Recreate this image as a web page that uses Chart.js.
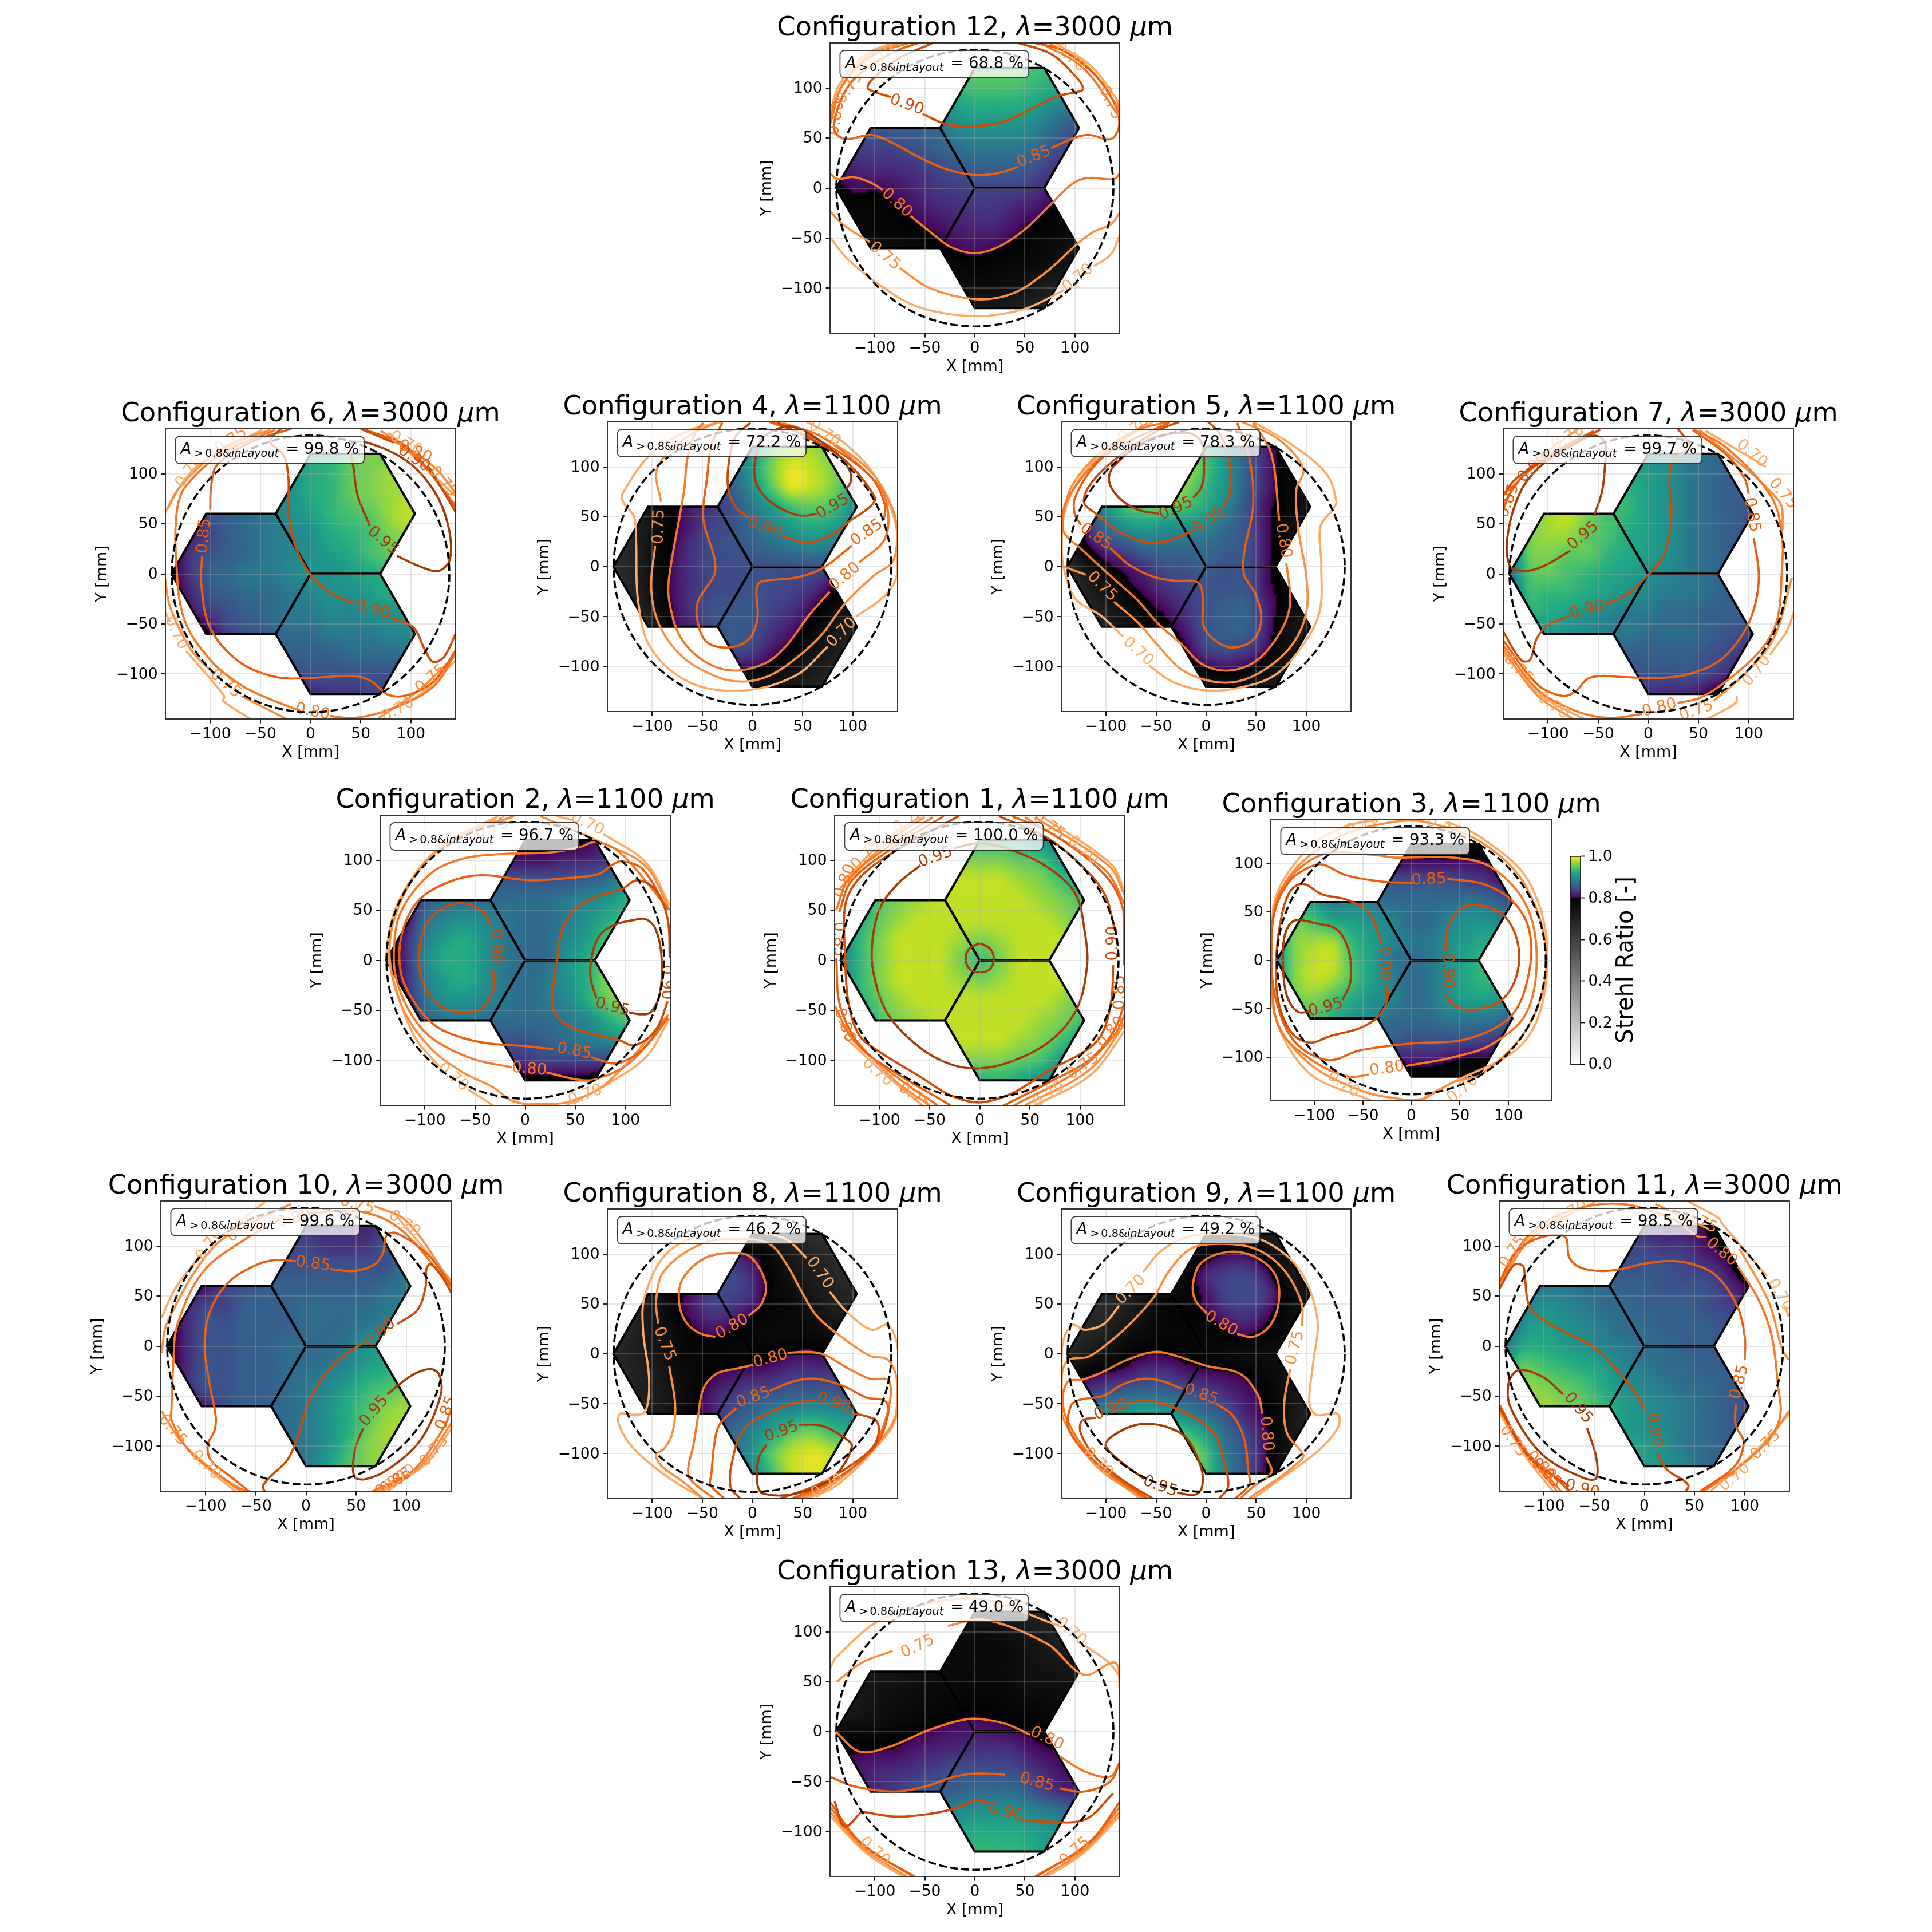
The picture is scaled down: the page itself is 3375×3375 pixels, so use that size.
<!DOCTYPE html>
<html>
<head>
<meta charset="utf-8">
<script src="https://cdn.jsdelivr.net/npm/chart.js@4"></script>
<style>
body { margin: 0; background: #fff; }
#page { position: relative; width: 3375px; height: 3375px; overflow: hidden; }
canvas { position: absolute; }
</style>
</head>
<body>
<div id="page"></div>
<script>
const tickValues = [-100, -50, 0, 50, 100];
const barTicks = [0, 0.2, 0.4, 0.6, 0.8, 1];
const gridX = [-140, -120, -100, -80, -60, -40, -20, 0, 20, 40, 60, 80, 100, 120];
const gridY = [120, 100, 80, 60, 40, 20, 0, -20, -40, -60, -80, -100, -120];
const apertureRadius = 138.3;
const hexTop = [[0,0],[69.3,0],[104,60],[69.3,120],[0,120],[-34.7,60],[0,0]];
const hexLeft = [[0,0],[-34.7,60],[-104,60],[-138.6,0],[-104,-60],[-34.7,-60],[0,0]];
const hexBottom = [[0,0],[-34.7,-60],[0,-120],[69.3,-120],[104,-60],[69.3,0],[0,0]];

// config, wavelength, area > 0.8
const config1 = [1, 1100, '100.0'], config2 = [2, 1100, '96.7'], config3 = [3, 1100, '93.3'];
const config4 = [4, 1100, '72.2'], config5 = [5, 1100, '78.3'], config6 = [6, 3000, '99.8'];
const config7 = [7, 3000, '99.7'], config8 = [8, 1100, '46.2'], config9 = [9, 1100, '49.2'];
const config10 = [10, 3000, '99.6'], config11 = [11, 3000, '98.5'], config12 = [12, 3000, '68.8'];
const config13 = [13, 3000, '49.0'];

// strehl x100 on gridX / gridY, read by eye
const field12 = [
[80,82,84,86,88,90,93,95,95,95,94,92,88,82],[80,84,88,90,91,92,93,94,94,94,93,92,91,85],
[78,84,86,87,88,89,91,92,92,92,91,89,88,86],[78,84,85,86,86,87,89,90,90,90,89,87,85,86],
[80,83,84,84,85,86,87,88,88,88,87,85,84,83],[81,82,82.5,82.5,83,84,85,86,86,86,85,83,82,81],
[79,80.5,80.3,81,82,83,83.5,84,84,84,83,81.5,79.8,79],[77,78,78.5,79.5,81,82,82.5,83,83,82,81.3,79.5,78,77],
[76,77,78,78.5,79.2,80.4,81.5,82,82,80.7,79.2,78,77,76],[73,75,75,76,77,78.5,80.2,80.8,80.1,78.8,77.8,76,75,74],
[70,72,73,74,75,76,77.5,78.5,78,77,76,75,72,70],[64,67,69,71,73,74,75,76,76,75,73,70,69,67],
[60,62,64,66,69,70,71,72,72,71,70,68,66,64]];
const field4 = [
[55,60,66,70,74,78,84,90,95,97,97,94,88,78],[60,62,68,72,76,80,86,91,96,99,98,96,92,82],
[62,66,70,75,79,83,86,90,95,99,98,96,92,85],[64,68,73,78.5,81.5,83,85,88,91,94,95,94,90,85],
[65,69,74,79,82,84,85,87,89,91,92,91,88,82],[66,69,75,80,83,84.5,85,86,87,88,89,88,85,80],
[66,69,75,80.5,83,84.5,84.5,85,85,85,85,84,79.8,76],[65,69,75,80.5,83,84,84.5,85,84.5,84,83,80.3,77.5,72],
[64,67,74,80.2,83,85,85.3,85.3,84,83,80.4,77,73,70],[60,63,70,79.3,82,84.5,85.5,85,83,81.3,78.3,74,70,65],
[55,60,66,75,80.3,83,85,84,81.5,79.2,75,72,68,62],[48,56,62,69,76,79.6,80.3,80.5,78.5,75,72,70,65,60],
[40,48,56,63,68,72,73,74,74,72,70,67,62,56]];
const field5 = [
[72,80,88,93,96,97,95,93,90,86,82,77,70,64],[72,82,90,95,97,98,97,94,90,86,82,78,74,70],
[72,84,91,95,97,98,96,93,90,86,82,78,75,70],[74,84,90,94,95,95,94,92,89,85,81,78,74,70],
[75,82,87,90,91,90,90,89,87,85,81,77,73,70],[72,79,83,85,87,87,87,87,86,85,81,77,73,69],
[66,74,79,81,83,85,85,86,85,85,81,77,73,69],[64,70,75,79,81,83,84,85,85,85,81,78,73,69],
[62,68,72,76,79,81,83,85,86,86,82,78,73,68],[57,64,70,73,76,79,82,85,86,86,82,76,72,66],
[52,60,66,70,72,76,80,84,85,84,81,75,70,64],[46,53,60,66,70,74,78,80,81,80,78,73,68,60],
[38,46,54,60,65,68,72,74,75,75,72,68,62,54]];
const field6 = [
[70,78,82,84,87,88,90,92,93,95,96,95,93,85],[72,80,84,85,87,88,90,92,93,95,96,97,95,92],
[74,80,84,86,87,88,90,92,93,95,96,97,97,95],[74,80,85,86,87,88,90,91,93,94,95,97,98,96],
[76,81,84,86,87,88,89,90,92,93,94,96,97,97],[78,83,85,86,87,88,89,90,91,92,94,95,96,96],
[79,83,86,87,88,88,89,90,90,91,92,93,94,95],[78,82,85,86,87,87,88,89,90,90,91,92,92,93],
[72,80,83,85,86,87,88,88,89,89,90,90,91,92],[66,74,80,84,85,86,87,87,88,88,88,89,89,90],
[60,71,78,82,84,85,86,86,86,87,87,87,88,88],[55,67,74,79,82,83,84,85,85,85,85,85,85,87],
[50,60,70,75,78,80,81,82,83,83,84,83,83,83]];
const field7 = [
[78,84,90,94,95,94,92,90,89,88,87,86,85,80],[80,88,94,96,95,94,92,91,90,88,87,86,85,82],
[82,92,96,97,97,95,93,91,90,88,87,86,86,83],[86,94,97,98,96,94,93,91,90,88,87,86,85,83],
[86,95,97,97,95,94,92,91,90,88,87,86,85,83],[86,95,96,95,95,93,92,91,90,88,87,86,85,83],
[86,94,95,94,93,92,91,90,89,88,87,86,85,82],[85,93,93,93,92,91,90,89,88,88,87,86,85,82],
[83,92,92,91,90,89,88,88,87,87,86,86,85,81],[80,88,90,90,89,88,88,87,87,87,86,85,84,80],
[76,85,88,87,86,86,86,86,86,86,85,84,82,78],[70,78,81,84,84,85,85,85,85,85,84,82,78,75],
[60,72,76,83,83,83,83,83,82,82,80,77,75,70]];
const field2 = [
[68,70,74,78,78,78,79,79,79,79,80,82,80,75],[70,74,79,81,81,81,81,81,81,82,82,83,84,85],
[72,77,82,85,85,85,85,85,85,85,86,87,89,88],[72,78,85,87,87,87,87,87,87,88,89,90,92,92],
[75,80,87,89,90,89,88,87,87,88,90,92,94,96],[77,82,88,91,92,90,88,87,87,89,91,94,97,97],
[78,82,89,92,92,90,88,87,87,90,92,95,97,98],[77,82,88,91,92,90,88,87,88,90,92,96,98,98],
[75,81,87,90,90,89,88,87,88,89,92,95,97,97],[72,78,85,87,88,87,87,87,87,88,89,92,94,94],
[70,76,81,83,85,85,85,85,86,87,88,89,90,89],[62,70,75,77,78,81,83,83,84,84,84,84,84,85],
[52,62,68,72,75,77,78,79,79,79,79,78,80,78]];
const field1 = [
[78,82,85,88,90,92,93,93,93,92,90,88,85,82],[82,85,89,91,94,95,96,96,96,95,94,91,89,85],
[84,88,91,94,96,97,98,98,98,97,96,94,91,88],[86,90,94,96,97,98,98,98,98,98,97,96,94,90],
[87,92,95,97,98,98,98,98,98,98,98,97,95,92],[89,93,96,98,98,98,97,96,97,98,98,98,96,93],
[88,93,96,98,98,98,96,94,96,98,98,98,96,93],[89,93,96,98,98,98,97,96,97,98,98,98,96,93],
[87,92,95,97,98,98,98,98,98,98,98,97,95,92],[86,90,94,96,97,98,98,98,98,98,97,96,94,90],
[84,88,91,94,96,97,98,98,98,97,96,94,91,88],[82,85,89,91,94,95,96,96,96,95,94,91,89,85],
[78,82,85,88,90,92,93,93,93,92,90,88,85,82]];
const field3 = [
[65,72,76,77,78,79,79,79,78,78,77,76,72,65],[70,83,81,81,81,80,80,81,81,81,81,80,77,72],
[75,89,89,85,85,85,85,85,85,85,84,83,80,75],[85,91,91,88,89,88,87,87,87,87,88,87,85,80],
[88,95,94,92,91,90,89,87,87,89,90,90,88,82],[90,96,97,97,93,91,89,88,88,90,91,92,90,83],
[90,96,98,98,94,91,88,87,88,90,92,93,91,84],[90,96,98,97,94,91,89,87,88,90,92,93,90,84],
[88,95,96,94,92,90,89,87,88,90,91,91,89,82],[84,92,94,92,90,89,87,87,87,88,88,88,86,80],
[76,88,90,87,87,86,86,85,85,85,85,84,82,75],[68,83,85,81,82,83,82,82,82,81,80,80,77,72],
[62,68,74,76,78,79,80,78,78,77,76,74,70,66]];
const field10 = [
[62,70,76,80,82,83,83,83,83,83,82,84,83,78],[68,74,80,82,83,83,84,84,83,83,83,85,85,84],
[71,76,81,83,85,85,85,85,85,85,85,85,88,90],[72,78,81,84,85,86,86,86,86,86,86,87,88,90],
[79,82,84,84,86,86,86,87,87,87,87,88,89,90],[78,82,85,85,86,86,86,87,87,87,88,89,90,90],
[78,82,85,85,86,86,87,87,87,88,90,91,92,92],[78,82,85,85,86,86,87,87,88,89,91,92,94,95],
[78,82,85,85,86,86,87,88,89,91,93,94,95,95],[72,78,82,85,86,86,87,88,90,92,94,96,97,96],
[70,77,82,85,85,86,87,88,90,92,95,97,97,96],[66,73,79,85,85,85,87,88,90,93,96,97,97,95],
[58,68,75,80,83,85,87,88,91,94,96,97,96,92]];
const field8 = [
[58,60,62,65,69,71,71,71,70,68,66,64,62,60],[60,63,67,71,75,79.5,80.2,79.8,76,72,69,67,65,63],
[62,65,71,76,81,83,84,82,78,74,71,68,66,64],[64,67,72,77.5,81.5,84,84,82.5,78,76,73,70,68,66],
[66,68,73,78,81,83,82,80,78,77,75,72,70,68],[67,69,73,76,79,80.4,79.3,78,77,77,77,76,74,70],
[68,70,73,76,78,78,78,78.5,79,80.4,80.6,79.2,76,72],[67,69,71,75,77,79.6,80.8,81.3,82,83,83,83,80.3,79.6],
[66,69,71,74,78,81.5,83,84.5,85,86,86,86,84,81],[65,68,71,74,79,82,85,86.5,89,90,91,90,89,85],
[60,65,70,74,79.5,84.5,87,89,92,95,96,94,92,88],[55,62,68,73,76,81,86,90,95,98,99,98,96,90],
[48,56,65,71,75,80,84,89,94,98,99,98,96,88]];
const field9 = [
[60,62,64,66,68,70,72,74,74,74,72,68,64,62],[62,64,66,68,70,72,74,78,80.2,80.1,77,73,69,66],
[64,65,67,69,71,73,77,82,83.5,84,81,75,71,68],[65,66,68,70,74,76,78,81,84,84.5,83,78,73,70],
[66,67,68,71,75,78,78.5,80,82,83,81,77,74,72],[66,68,71,75,77,78,78,78,79.5,80.4,78.5,77,74,72],
[68,72,75,78,79.7,79.8,79,78,77,76,76,75,73,70],[73,79,80.3,81.5,83,83,81.5,80.8,80.3,79.3,77,75,73,70],
[81,83,85,86.5,87,86.5,85.3,84,82.5,81,79,75,72,69],[83,87,90,91,92,91,89,87,85,82,79.5,75,70,68],
[78,88,93,95,96,96,94,91,87,84,80.5,75,70,66],[66,78,85,94,97,98,97,94,88,85,80.3,74,70,62],
[55,68,80,90,96,98,97,94,89,85,80,72,66,58]];
const field11 = [
[70,76,80,82,83,83,82,82,82,81,80,77,73,68],[74,80,84,86,85,85,84,84,83,83,81,79,75,70],
[76,88,89,87,86,85,85,85,85,84,83,81,77,73],[76,86,88,88,87,87,86,86,85,85,85,83,80,74],
[80,88,90,89,88,87,87,86,86,86,85,84,82,75],[84,90,91,90,89,88,87,87,86,86,86,85,84,80],
[88,92,92,91,90,89,88,87,87,86,86,85,85,82],[92,95,94,93,92,91,89,88,87,87,86,86,85,83],
[90,96,96,95,94,92,90,89,88,87,87,86,85,83],[88,95,97,96,95,93,91,90,89,88,87,86,85,83],
[82,92,96,96,95,93,91,90,89,88,87,86,85,83],[76,88,94,96,95,93,92,91,90,88,87,86,85,82],
[68,80,90,94,95,94,92,91,90,89,87,86,84,80]];
const field13 = [
[65,68,70,70,71,72,73,73,73,72,70,69,67,65],[68,70,71,72,73,74,76,76,76,74,72,70,68,68],
[70,71,72,74,75,76,77,77,77,76,74,72,71,71],[71,72,73,74,75,76,77,77,77,76,75,74,74,74],
[71,73,74,75,76,77,77,78,78,77,76,76,75,74],[72,73,75,76,77,78,79,79.6,79,78,78,77,76,75],
[76,77,77,78,79.5,80.4,81,81.3,81,80.4,79.3,78,77,76],[78,79.8,80.1,80.4,81.5,82,82.5,83,83,82.5,81,80.2,79,79],
[79,81,82,82.5,83,84,85,85,85,84.5,83,81.5,80,80],[77,80,82,83.5,85,85.5,86,87,87,87,85,83,82,82],
[73,78,82,85,87,88,89,90,90,90,89,88,86,85],[68,75,80,84,87,89,91,92,92,92,91,90,88,85],
[60,70,76,82,86,89,91,93,93,93,92,90,87,82]];

// contour pieces: [level, x,y, x,y, ...], broken where a label sits
const lines12 = [
[90,-42,145,-77,129,-103,108,-107,100,-100,96,-84,91],[90,-52,74,-29,64,0,62,31,67,60,81,83,92,102,96,108,99,102,110,76,134,43,145],
[85,43,21,23,15,0,13,-29,19,-56,31,-82,45,-103,53,-129,49,-140,57,-137,79,-124,105,-100,125,-74,139,-56,145],[85,76,40,102,51,115,53,136,49,144,62,141,81,123,110,89,137,60,145],
[80,-144,14,-137,9,-121,11,-103,5,-92,-2],[80,-64,-28,-43,-45,-24,-59,0,-65,23,-59,49,-42,76,-16,97,4,112,10,139,9,145,15],
[80,-145,62,-132,103,-103,132,-66,145],[80,66,145,108,120,145,70],
[75,-144,-24,-131,-37,-105,-54],[75,-75,-80,-45,-100,0,-111,36,-106,70,-85,102,-56,118,-44,136,-36,145,-24],
[75,-145,66,-134,100,-107,132,-75,145],[75,74,145,112,122,145,78],
[70,-144,-50,-127,-71,-95,-97,-56,-119,0,-128,49,-121,89,-102],[70,119,-78,136,-66,145,-46],
[70,-145,72,-136,102,-110,133,-82,145],[70,80,145,116,122,145,84]];
const labels12 = [['0.90',-68,83,20],['0.85',59,31,-22],['0.80',-78,-15,42],['0.75',-90,-68,40],['0.70',103,-90,-40],['0.70',95,130,40],['0.75',135,85,65],['0.70',-95,130,-35],['0.75',-125,100,-55],['0.80',-138,70,-80]];

const lines4 = [
[95,64,53,48,51,25,60,9,74,2,91,4,113,11,130,40,140,82,115,96,98,98,86,93,77],
[90,-4,49,-17,60,-24,77,-24,101,-17,130,-2,144],[90,29,31,54,24,77,31,96,45,117,60,122,69,96,103,69,122,25,144],
[85,-30,144,-41,122,-45,91,-49,48,-38,9,-38,-8,-54,-34,-55,-53,-46,-75,-25,-81,-4,-73,5,-51,4,-22,9,-15,43,-11,69,-2,99,21],[85,131,47,132,62,117,91,69,125,17,145],
[80,-49,144,-57,134,-65,108,-68,77,-83,-10,-83,-34,-72,-70,-49,-94,-20,-104,12,-97,33,-80,56,-49,77,-25],[80,106,4,132,28,134,62,122,86,69,130,22,145],
[75,-91,65,-96,93,-88,110,-62,132,-36,144],[75,-97,21,-101,-22,-93,-58,-70,-90,-36,-110,-9,-115,17,-109,43,-92,69,-68,92,-37,122,-8,139,4,144,26,140,57,117,96,69,130,30,144],
[70,75,-80,43,-109,-9,-124,-62,-116,-101,-82,-114,-34,-116,26,-118,50,-129,65,-129,74,-101,113,-62,137,-30,145],
[70,103,-50,132,-29,144,-8,144,38,122,91,90,125,54,145]];
const labels4 = [['0.95',80,60,-30],['0.90',12,39,20],['0.85',114,34,-35],['0.80',92,-10,-40],['0.75',-93,40,-88],['0.70',89,-66,-45],['0.70',72,133,35]];

const lines5 = [
[95,-47,53,-68,57,-87,69,-97,86,-92,101,-58,127,-19,134,-5,125,-2,98,-5,79,-13,69],
[90,-12,37,-32,28,-55,24,-84,33,-110,53,-122,65,-113,86,-84,113,-47,137,-27,145],[90,18,60,25,81,21,115,13,134,2,145],
[85,-96,19,-77,2,-53,-10,-32,-14,-8,-16,-3,-34,-3,-58,8,-73,26,-81,47,-73,55,-53,50,-29,38,-8,38,14,47,62,43,110,31,144],[85,-125,42,-131,52,-131,69,-110,103,-84,122,-37,144],
[80,73,46,65,113,47,144],[80,80,4,84,-34,78,-58,60,-85,42,-99,18,-104,-5,-97,-24,-78,-47,-58,-68,-34,-89,-15,-110,4,-126,19,-137,28,-143,38,-139,67,-105,110,-68,137,-37,145],
[75,36,145,73,127,97,98,90,77,92,38,100,-10,100,-46,86,-78,60,-102,31,-115,2,-114,-26,-102,-47,-80,-68,-56,-92,-35],[75,-120,-8,-145,1],[75,-143,50,-134,81,-105,115,-58,144],
[70,-57,-99,-32,-116,2,-124,34,-121,68,-109,94,-82,113,-46,115,2,114,40,126,57,130,65,120,93,86,122,47,145],
[70,-83,-70,-105,-49,-129,-34,-138,-17,-144,14,-139,62,-110,108,-53,145]];
const labels5 = [['0.95',-30,58,-25],['0.90',3,46,-35],['0.85',-110,30,35],['0.80',77,26,80],['0.75',-104,-20,45],['0.70',-68,-85,42],['0.70',-72,137,-35]];

const lines6 = [
[95,59,48,47,78,43,105,40,129,57,131,97,112,123,83,137,49,139,15,128,3,110,7,86,18],
[90,44,-30,18,-18,0,-1,-16,30,-22,64,-22,95,-27,119,-40,131,-37,138,-29,145],[90,80,-44,102,-53,114,-76,122,-88,133,-83,145,-59],[90,50,145,83,131],[90,118,107,145,61],
[85,-108,18,-109,-9,-100,-54,-71,-88,-35,-103,0,-104,44,-102,60,-107,78,-121,97,-121,123,-107,145,-76],[85,-100,64,-99,88,-93,109,-61,131,-19,145],[85,55,144,97,126,145,66],
[80,-10,-137,-48,-122,-71,-110,-100,-86,-126,-45,-134,15,-133,64,-124,88,-87,121,-35,144],[80,19,-142,44,-144,83,-134,123,-112,145,-78],[80,52,144,97,124,145,68],
[75,-24,-145,-69,-122],[75,-98,-98,-119,-76,-140,-33,-145,-4],[75,-143,64,-129,88,-87,126,-40,144],[75,68,-144,107,-117,145,-81],[75,70,143,123,107,145,80],
[70,-60,-145,-87,-127,-86,-122,-124,-77],[70,-145,-38,-140,-48],[70,-145,61,-132,85,-108,112,-48,144],[70,70,-139,110,-120,145,-86],[70,78,141,144,78]];
const labels6 = [['0.95',72,33,40],['0.90',62,-36,15],['0.90',103,115,35],['0.85',-106,38,-85],['0.80',2,-138,12],['0.75',-85,-110,40],['0.70',-134,-59,65],['0.75',120,-105,-40],['0.70',87,-136,-30],['0.75',132,92,50],['0.70',95,130,30],['0.70',-121,102,-55],['0.75',-79,133,-35],['0.80',104,122,25]];

const lines7 = [
[95,-78,23,-106,7,-124,3,-138,8,-140,40,-127,83,-106,109,-80,126,-54,138,-43,131,-43,112,-46,83,-54,58],
[90,-43,-30,-22,-21,0,-1,15,18,21,40,23,64,21,95,25,114,41,126,35,138,29,145],[90,-78,-42,-98,-50,-111,-64,-118,-86,-127,-86,-145,-57],[90,-145,78,-132,95,-93,121,-48,144],
[85,100,80,96,95,78,119,44,144],[85,105,36,110,1,107,-28,96,-57,72,-86,41,-100,12,-104,-27,-103,-48,-102,-61,-105,-72,-117,-85,-122,-111,-110,-145,-66],[85,-145,64,-132,90,-96,120,-54,143],
[80,-6,-140,-40,-144,-75,-136,-111,-115,-145,-71],[80,29,-129,51,-124,78,-107,112,-76,128,-47,133,3,133,40,122,78,78,126,46,144],
[75,65,-127,96,-100,125,-64,143,-4],[75,-145,-75,-111,-121,-75,-145],[75,51,144,130,73,134,44],[75,-145,70,-115,110,-70,145],
[70,59,-145,87,-129,88,-122],[70,121,-81,138,-57,145,-38],[70,57,143,117,107],[70,-93,129,-145,78],[70,-64,-145,-106,-122,-145,-79]];
const labels7 = [['0.95',-65,38,-40],['0.90',-61,-36,-15],['0.85',103,59,80],['0.80',11,-134,-15],['0.75',48,-137,-20],['0.70',108,-97,-50],['0.70',103,120,40],['0.75',134,80,50],['0.90',-115,106,-45],['0.70',-95,-132,35],['0.75',-130,-95,45],['0.85',-139,73,-70],['0.70',-80,136,-30]];

const lines2 = [
[95,71,-38,65,-17,67,7,75,26,88,35,107,40,120,41,130,31,136,2,134,-34,125,-52,115,-54,103,-52],
[90,-34,35,-43,49,-64,57,-85,50,-100,33,-106,2,-100,-27,-82,-47,-59,-52,-43,-47,-32,-29,-32,-10],
[90,144,2,142,41,130,70,112,80,96,71,73,64,52,53,37,31,32,2,27,-41,33,-58,54,-70,94,-80,109,-85,130,-70,142,-41],
[85,28,-89,2,-86,-37,-83,-64,-77,-90,-65,-111,-41,-124,-12,-123,26,-106,60,-74,79,-43,85,4,80,41,82,73,86,86,95,96,99,117,91,142,50],[85,66,-97,91,-103,117,-89,142,-58],
[80,-13,-107,-51,-99,-90,-80,-111,-58,-127,-24,-131,7,-124,48,-95,86,-64,101,-26,106,28,108,54,113,70,118,94,108,142,52],[80,21,-112,51,-119,70,-119,106,-101,142,-56],
[75,2,-144,-14,-140,-32,-127,-64,-111,-95,-87,-122,-48,-135,2,-129,46,-103,94,-64,125,-11,144],[75,2,-144,41,-142,81,-123,143,-54],[75,15,144,75,118,120,94,144,50],
[70,-57,-129,-32,-145],[70,-86,-106,-111,-75,-132,-17,-137,19,-122,67,-85,113,-27,144],[70,77,-127,120,-97,144,-58],[70,41,-144,55,-140],[70,78,126,120,98,144,55],[70,31,144,48,140]];
const labels2 = [['0.95',87,-47,15],['0.90',-30,14,90],['0.90',140,-22,90],['0.85',49,-91,10],['0.80',4,-109,5],['0.70',-72,-117,40],['0.70',60,-135,-20],['0.70',62,136,25],['0.75',-33,132,-20]];

const lines1 = [
[95,0,17,10,12,14,2,10,-9,0,-12,-10,-9,-14,2,-10,12,0,17],
[95,-59,95,-81,77,-99,53,-107,19,-106,-12,-92,-53,-60,-87,-29,-104,0,-108,32,-101,71,-80,97,-48,107,-5,105,26,95,67,66,94,32,110,0,117,-26,112],
[90,135,29,124,67,97,99,66,123,19,144],[90,-21,144,-86,108,-120,82,-134,55,-134,2,-131,-41,-120,-75,-99,-92,-60,-116,-29,-135,0,-142,32,-133,71,-109,103,-92,121,-75,131,-41,133,-5],
[85,-140,48,-128,79,-86,113,-36,144],[85,32,144,71,127,124,86,143,50,144,-5],[85,-143,2,-139,-46,-118,-87,-86,-111,-29,-145],[85,24,-145,71,-121,110,-99,134,-70,145,-41],
[80,-143,50,-130,82,-89,115,-47,143],[80,45,143,124,91,145,55],[80,-144,-46,-126,-80,-81,-118,-42,-145],[80,34,-145,97,-111,134,-75,145,-53],
[75,-139,72,-92,118,-55,143],[75,55,143,129,94,145,64],[75,-139,-63,-86,-119,-50,-145],[75,45,-145,110,-109,145,-63],
[70,-136,79,-97,118,-60,143],[70,63,143,131,96,145,67],[70,-134,-77,-92,-116,-57,-145],[70,55,-145,110,-115,145,-70]];
const labels1 = [['0.95',-44,103,-20],['0.90',133,17,-90],['0.85',140,-32,-90],['0.85',-141,21,90],['0.80',131,-72,-50],['0.80',-134,79,-70],['0.80',-135,-65,70],['0.75',103,-106,-35],['0.70',69,-134,-35],['0.70',-102,-112,40],['0.75',-65,-136,35],['0.70',103,110,40],['0.75',69,134,35],['0.70',-70,139,-30],['0.75',-113,105,-45]];

const lines3 = [
[95,-104,-53,-117,-53,-128,-37,-132,-8,-130,27,-120,41,-98,38,-77,32,-65,12,-62,-13,-64,-27,-71,-41],
[90,-25,-25,-25,-42,-34,-58,-53,-70,-83,-78,-104,-85,-123,-75,-137,-42,-139,-3,-136,32,-126,69,-112,79,-92,68,-65,62,-44,49,-32,22,-32,17],
[90,35,10,37,32,49,52,67,57,94,47,109,20,109,-13,94,-40,67,-51,49,-49,38,-40,36,-34],
[85,2,80,-29,81,-68,88,-92,99,-107,95,-126,81,-141,49,-144,0,-139,-42,-120,-84,-86,-103,-53,-93,-2,-86,58,-81,103,-57,121,-13,121,32,103,62,73,79,37,84],
[80,-44,-118,-65,-120,-101,-104,-135,-72,-144,-18,-144,32,-132,76,-92,109,-41,109,-17,106,43,106,82,96,118,57,129,2,118,-55,82,-87,43,-100,-5,-109],
[75,13,-143,-5,-144,-53,-134,-108,-104,-141,-55,-144,32,-126,86,-77,126,-23,142,13,143,73,121,118,76,139,2,121,-67,73,-117,43,-126,13,-143],
[70,10,-144,19,-138,37,-129,118,-82,140,2,121,81,73,126,37,143],[70,-41,-145,-108,-114,-144,-42,-142,57,-108,114,-68,138,-35,145]];
const labels3 = [['0.95',-88,-49,-15],['0.90',-28,-3,90],['0.90',37,-11,90],['0.85',18,83,-3],['0.80',-25,-112,-8],['0.70',-70,-128,35],['0.70',53,-133,-40],['0.70',-50,140,-25],['0.70',32,136,30]];

const lines10 = [
[95,57,-82,49,-103,48,-130,59,-133,82,-123,114,-94,134,-50,133,-29,124,-23,106,-29,81,-48],
[90,57,3,38,-9,17,-31,1,-60,-7,-87,-18,-113,-36,-131,-43,-140,-41,-145],[90,91,22,111,36,119,58,120,77,124,82,134,72,145,53],
[85,-10,85,-31,86,-52,80,-78,63,-96,34,-101,0,-96,-38,-90,-70,-91,-84,-98,-99,-94,-115,-73,-132,-57,-145],[85,24,77,48,75,69,82,77,94,80,110,90,113,121,92,145,60],
[80,-134,-62,-132,-14,-128,22,-102,75,-57,109,-25,127],[80,3,133,56,134,95,116,145,58],[80,-134,-62,-134,-74,-115,-106,-75,-137,-60,-145],[80,66,-145,106,-125,137,-82,145,-62],
[75,-144,-65,-122,-98,-83,-132,-65,-145],[75,-144,-7,-138,24,-94,97,-49,126,-15,142],[75,68,140,100,125,145,63],[75,72,-145,114,-120,145,-77],
[70,-144,28,-130,58,-104,92],[70,-83,111,-41,144],[70,90,130,145,65],[70,-120,-101,-89,-130,-70,-145],[70,77,-145,119,-118,145,-82]];
const labels10 = [['0.95',68,-65,-50],['0.90',74,13,-40],['0.85',7,82,8],['0.70',-96,101,-55],['0.75',-62,116,-30],['0.80',-12,127,-15],['0.75',51,141,15],['0.70',98,122,35],['0.75',-133,-84,50],['0.70',-100,-119,45],['0.85',140,-67,-70],['0.75',128,-105,-50],['0.85',90,-135,-35],['0.80',85,-138,-35],['0.70',94,-132,-35]];

const lines8 = [
[95,14,-91,6,-105,5,-131,11,-140,43,-140,80,-124,99,-93,90,-83,69,-72,46,-71],
[90,63,-47,43,-49,12,-61,-9,-76,-19,-102,-22,-133,-12,-145],[90,99,-59,122,-66,126,-78,117,-97,69,-129,27,-145],
[85,-16,-54,-33,-71,-38,-90,-41,-121,-42,-131,-28,-145],[85,17,-37,43,-27,64,-25,90,-32,114,-44,132,-47,135,-61,122,-93,82,-126,39,-145],
[80,-37,17,-51,20,-65,30,-73,50,-70,74,-49,95,-23,101,-2,97,13,71,9,50,-4,38],
[80,1,-11,-17,-15,-36,-20,-49,-35,-54,-61,-59,-92,-64,-114,-62,-126,-38,-145],[80,35,1,56,2,72,-1,96,-15,117,-25,136,-27,134,-61,117,-97,75,-131,43,-145],
[75,-94,30,-96,54,-88,83,-51,110,-12,115,17,110,35,88,48,64,64,38,90,16,117,-2,135,-6,144,-27,143,-61,122,-93,77,-133,48,-145],[75,-83,-12,-77,-52,-80,-80,-88,-95,-96,-101,-91,-112,-72,-126,-49,-145],
[70,54,96,33,115,1,122,-36,122,-83,103,-107,59,-109,23,-103,-25,-107,-58,-120,-61,-132,-60,-133,-71,-120,-93,-88,-121,-49,-145],[70,77,62,96,40,119,24,135,29,145,4,144,-61,122,-95,82,-133,54,-145]];
const labels8 = [['0.95',29,-78,-20],['0.90',81,-49,18],['0.85',1,-44,-20],['0.80',-20,27,-30],['0.80',18,-5,-15],['0.75',-88,10,68],['0.70',67,81,55],['0.70',75,-133,-30]];

const lines9 = [
[95,-62,-125,-84,-109,-100,-93,-97,-85,-76,-73,-58,-70,-37,-74,-19,-85,-5,-114,-4,-133,-11,-141,-29,-139],
[90,-78,-49,-58,-47,-32,-54,-5,-68,10,-83,18,-109,22,-133,13,-145],[90,-110,-64,-124,-67,-125,-80,-110,-104,-84,-126,-53,-145],
[85,-24,-35,-45,-27,-63,-25,-84,-31,-102,-42,-126,-46,-135,-52,-137,-76,-110,-109,-58,-145],[85,10,-50,26,-61,38,-85,42,-117,43,-131,29,-145],
[80,1,40,-11,54,-13,71,-5,91,21,102,47,98,68,81,73,57,65,30,47,17,31,20],
[80,56,-60,52,-42,34,-20,0,-12,-27,-3,-50,2,-79,-6,-103,-18,-124,-26,-137,-27,-143,-42,-139,-66,-110,-109,-61,-145],[80,60,-103,65,-119,47,-133,34,-145],
[75,96,28,95,52,76,86,47,106,8,110,-16,105,-37,83,-52,57,-76,30,-100,9,-118,-3,-137,-6,-144,-20,-144,-61,-110,-112,-63,-145],[75,84,-15,78,-49,81,-80,97,-101,94,-107,73,-124,42,-145],
[70,-87,48,-102,30,-121,24,-134,29,-144,6,-144,-61,-115,-102],[70,-100,-118,-66,-145],[70,-63,82,-45,103,-19,117,21,120,60,112,94,83,111,35,107,-8,103,-49,110,-61,131,-60,132,-73,112,-97,73,-126,47,-145]];
const labels9 = [['0.95',-46,-133,20],['0.90',-95,-56,-20],['0.85',-5,-41,20],['0.80',15,30,30],['0.80',60,-80,85],['0.75',89,6,-75],['0.70',-75,64,-45],['0.70',-108,-109,45]];

const lines11 = [
[95,-81,-48,-101,-31,-125,-24,-135,-36,-133,-62,-102,-108,-60,-132,-48,-132,-48,-111,-57,-82],
[90,1,-65,-7,-50,-23,-29,-49,-2,-75,12,-102,27,-115,41,-119,68,-121,80,-130,81,-144,58],[90,13,-107,22,-123,40,-135,44,-140,41,-145],[90,-144,-62,-115,-111,-75,-140],
[85,100,-14,100,10,92,41,72,70,48,82,24,85,-2,82,-23,77,-44,75,-65,79,-75,89,-79,109,-102,109,-128,94,-144,65],[85,91,-58,91,-79,99,-96,90,-120,56,-145],[85,-144,-59,-120,-103,-88,-132,-75,-145],
[80,62,109,52,110,30,126,-23,142,-75,135,-115,111,-144,65],[80,93,80,114,46,127,10,133,-38,135,-72,119,-99,82,-130,59,-145],[80,-144,-62,-117,-106,-83,-145],
[75,11,142,64,117],[75,95,97,124,44,137,-2,144,-14],[75,90,-127,56,-145],[75,144,-65,121,-99],[75,-144,60,-115,105,-60,140],[75,-144,-65,-118,-106,-87,-145],
[70,43,145,74,128,77,123,122,70],[70,144,29,140,40],[70,-144,62,-115,109,-49,144],[70,145,-67,108,-108,66,-145],[70,-144,-67,-120,-108,-91,-145]];
const labels11 = [['0.95',-66,-62,50],['0.90',10,-84,80],['0.85',95,-36,-75],['0.80',77,94,40],['0.70',135,51,60],['0.75',56,124,25],['0.75',-131,94,-55],['0.75',121,-99,-45],['0.70',90,-131,-40],['0.75',-131,-95,55],['0.85',-98,-127,45],['0.90',-62,-143,15],['0.70',-73,133,-30],['0.80',-103,-120,45]];

const lines13 = [
[90,-113,-80,-80,-85,-50,-83,-20,-77,0,-69,15,-72],[90,45,-88,70,-90,110,-88,138,-62],[90,-113,-80,-130,-95,-140,-70],
[85,-145,-45,-120,-55,-80,-60,-50,-55,-20,-45,0,-42,30,-43],[85,85,-57,109,-60,135,-50,145,-30],
[80,-139,0,-115,-20,-85,-15,-50,0,-20,10,0,13,30,8,55,-3],[80,85,-25,110,-40,135,-45,145,-30],
[75,-138,50,-113,69,-82,81],[75,-27,106,10,112,72,88,109,57,140,69,145,38],
[70,-145,62,-138,75,-88,115,0,133,84,106],[70,110,86,134,69,145,55],
[85,-145,-70,-115,-110,-62,-145],[80,-145,-75,-112,-114,-60,-145],[75,-145,-80,-110,-118,-68,-145],[70,-145,-84,-108,-122,-72,-145],
[85,145,-70,115,-110,62,-145],[80,145,-75,112,-114,60,-145],[75,145,-80,110,-118,68,-145],[70,145,-84,108,-122,72,-145]];
const labels13 = [['0.90',31,-81,15],['0.85',62,-51,15],['0.80',72,-7,25],['0.75',-57,85,-25],['0.70',96,100,40],['0.70',-100,-120,42],['0.75',100,-120,-42]];

const panelBoxes = {
  12: [1450.3, 74.5, 506.5, 507], 6: [289, 748.5, 507, 507.5], 4: [1060.9, 736.7, 507.3, 506.4], 5: [1854, 736.7, 506.4, 506.4],
  7: [2625.7, 748.5, 507.3, 507.5], 2: [664, 1423.7, 507, 507.6], 1: [1457.6, 1423.7, 507, 507.6], 3: [2219.8, 1431.7, 491.8, 491.6],
  10: [281.3, 2098.4, 507.4, 507.5], 8: [1060.9, 2112.1, 507.3, 506.4], 9: [1854, 2112.1, 506.4, 506.4], 11: [2618.8, 2098.4, 507, 507.5],
  13: [1450.3, 2772.2, 506.5, 506.5]
};
const panels = [
  [config12, field12, lines12, labels12], [config6, field6, lines6, labels6], [config4, field4, lines4, labels4],
  [config5, field5, lines5, labels5], [config7, field7, lines7, labels7], [config2, field2, lines2, labels2],
  [config1, field1, lines1, labels1], [config3, field3, lines3, labels3], [config10, field10, lines10, labels10],
  [config8, field8, lines8, labels8], [config9, field9, lines9, labels9], [config11, field11, lines11, labels11],
  [config13, field13, lines13, labels13]
];

const levelColors = { 70: '#fdab67', 75: '#fd8e3e', 80: '#f67824', 85: '#ea5f0e', 90: '#cf4a04', 95: '#a63a04' };
const viridis = [[68,1,84],[72,36,117],[65,68,135],[53,95,141],[42,120,142],[33,145,140],[34,168,132],[68,191,112],[122,209,81],[189,223,38],[253,231,37]];
const FONT = '"DejaVu Sans"';
Chart.defaults.font.family = FONT;
const page = document.getElementById('page');

function strehlColor(v) {
  if (v < 0.8) {
    const g = Math.round(255 * (1 - Math.max(0, v) / 0.8));
    return [g, g, g];
  }
  const t = Math.min(1, (v - 0.8) / 0.2) * 10, i = Math.min(9, Math.floor(t)), f = t - i;
  return viridis[i].map((c, k) => Math.round(c + (viridis[i + 1][k] - c) * f));
}

// like imshow with interpolation: the readings stay on the coarse grid, only the painted image is smooth
function cubic(a, b, c, d, t) {
  return b + 0.5 * t * (c - a + t * (2 * a - 5 * b + 4 * c - d + t * (3 * (b - c) + d - a)));
}
function smoothAt(field, u, v) {
  const ny = field.length, nx = field[0].length;
  const iu = Math.floor(u), iv = Math.floor(v), tu = u - iu, tv = v - iv;
  const at = (j, i) => field[Math.max(0, Math.min(ny - 1, j))][Math.max(0, Math.min(nx - 1, i))];
  const rows = [-1, 0, 1, 2].map(d => cubic(at(iv + d, iu - 1), at(iv + d, iu), at(iv + d, iu + 1), at(iv + d, iu + 2), tu));
  return cubic(rows[0], rows[1], rows[2], rows[3], tv);
}
function fieldImage(field) {
  const k = 8, off = document.createElement('canvas');
  off.width = gridX.length * k;
  off.height = gridY.length * k;
  const c = off.getContext('2d'), img = c.createImageData(off.width, off.height);
  for (let j = 0; j < off.height; j++) {
    for (let i = 0; i < off.width; i++) {
      const rgb = strehlColor(smoothAt(field, (i + 0.5) / k - 0.5, (j + 0.5) / k - 0.5) / 100), p = (j * off.width + i) * 4;
      img.data[p] = rgb[0]; img.data[p + 1] = rgb[1]; img.data[p + 2] = rgb[2]; img.data[p + 3] = 255;
    }
  }
  c.putImageData(img, 0, 0);
  return off;
}

// text pieces with mixed italic / subscript
function runFont(r) { return (r.it ? 'italic ' : '') + r.size + 'px ' + FONT; }
function runsWidth(ctx, runs) {
  return runs.reduce((w, r) => { ctx.font = runFont(r); return w + ctx.measureText(r.t).width + (r.gap || 0); }, 0);
}
function drawRuns(ctx, runs, x, y) {
  ctx.textAlign = 'left';
  ctx.textBaseline = 'alphabetic';
  ctx.fillStyle = '#000';
  runs.forEach(r => {
    ctx.font = runFont(r);
    ctx.fillText(r.t, x, y + (r.dy || 0));
    x += ctx.measureText(r.t).width + (r.gap || 0);
  });
}

function panelPlugin(cfg, field, labels) {
  const image = fieldImage(field);
  const titleRuns = [
    { t: 'Configuration ' + cfg[0] + ', ', size: 46.4 }, { t: 'λ', it: true, size: 46.4 },
    { t: '=' + cfg[1] + ' ', size: 46.4 }, { t: 'μ', it: true, size: 46.4 }, { t: 'm', size: 46.4 }
  ];
  const areaRuns = [
    { t: 'A', it: true, size: 27.5, gap: 5 }, { t: '>', size: 19.3, dy: 5, gap: 3 }, { t: '0.8&', size: 19.3, dy: 5 },
    { t: 'inLayout', it: true, size: 19.3, dy: 5, gap: 12 }, { t: '= ' + cfg[2] + ' %', size: 27.5 }
  ];
  return {
    id: 'panel',
    beforeDatasetsDraw(chart) {
      const { ctx, scales: { x, y } } = chart;
      ctx.save();
      ctx.beginPath();
      [hexTop, hexLeft, hexBottom].forEach(h => h.forEach((p, i) => {
        const px = x.getPixelForValue(p[0]), py = y.getPixelForValue(p[1]);
        if (i) ctx.lineTo(px, py); else ctx.moveTo(px, py);
      }));
      ctx.clip();
      ctx.imageSmoothingEnabled = true;
      ctx.imageSmoothingQuality = 'high';
      const x0 = x.getPixelForValue(gridX[0] - 10), x1 = x.getPixelForValue(gridX[gridX.length - 1] + 10);
      const y0 = y.getPixelForValue(gridY[0] + 10), y1 = y.getPixelForValue(gridY[gridY.length - 1] - 10);
      ctx.drawImage(image, x0, y0, x1 - x0, y1 - y0);
      ctx.restore();
    },
    afterDatasetsDraw(chart) {
      const { ctx, chartArea: a, scales: { x, y } } = chart;
      ctx.save();
      ctx.beginPath();
      ctx.rect(a.left, a.top, a.width, a.height);
      ctx.clip();
      // labels on the contours
      labels.forEach(l => {
        ctx.save();
        ctx.translate(x.getPixelForValue(l[1]), y.getPixelForValue(l[2]));
        ctx.rotate(l[3] * Math.PI / 180);
        ctx.font = '27.5px ' + FONT;
        ctx.textAlign = 'center';
        ctx.textBaseline = 'middle';
        ctx.fillStyle = levelColors[Math.round(parseFloat(l[0]) * 100)];
        ctx.fillText(l[0], 0, 0);
        ctx.restore();
      });
      // telescope aperture
      ctx.beginPath();
      ctx.ellipse(x.getPixelForValue(0), y.getPixelForValue(0),
        Math.abs(x.getPixelForValue(apertureRadius) - x.getPixelForValue(0)),
        Math.abs(y.getPixelForValue(apertureRadius) - y.getPixelForValue(0)), 0, 0, Math.PI * 2);
      ctx.setLineDash([13.5, 6]);
      ctx.lineWidth = 3.6;
      ctx.strokeStyle = '#000';
      ctx.stroke();
      ctx.restore();
    },
    afterDraw(chart) {
      const { ctx, chartArea: a } = chart;
      ctx.save();
      ctx.strokeStyle = '#222';
      ctx.lineWidth = 1.8;
      ctx.strokeRect(a.left, a.top, a.width, a.height);
      // area box
      const w = runsWidth(ctx, areaRuns) + 18, bx = a.left + 17.4, by = a.top + 13;
      ctx.beginPath();
      ctx.roundRect(bx, by, w, 48, 8);
      ctx.fillStyle = 'rgba(255,255,255,0.75)';
      ctx.fill();
      ctx.strokeStyle = 'rgba(30,30,30,0.85)';
      ctx.lineWidth = 1.8;
      ctx.stroke();
      drawRuns(ctx, areaRuns, bx + 9, by + 30.5);
      // title
      const tw = runsWidth(ctx, titleRuns);
      drawRuns(ctx, titleRuns, (a.left + a.right) / 2 - tw / 2, a.top - 13);
      ctx.restore();
    }
  };
}

function axis(extent, label, pad) {
  return {
    type: 'linear', min: -extent, max: extent,
    afterBuildTicks(s) { s.ticks = tickValues.map(v => ({ value: v })); },
    title: { display: true, text: label, color: '#000', font: { size: 27 }, padding: 0 },
    ticks: {
      color: '#000', font: { size: 26.5 }, padding: pad, maxRotation: 0, autoSkip: false,
      callback: v => String(v).replace('-', '\u2212')
    },
    grid: { color: 'rgba(176,176,176,0.3)', lineWidth: 2, z: 1, tickColor: '#000', tickWidth: 1.8, tickLength: 7.5 },
    border: { display: false }
  };
}

function drawPanel(cfg, field, lines, labels) {
  const box = panelBoxes[cfg[0]];
  const ml = 126, mr = 120, mt = 70, mb = 75;
  const canvas = document.createElement('canvas');
  canvas.width = ml + box[2] + mr;
  canvas.height = mt + box[3] + mb;
  canvas.style.left = (box[0] - ml) + 'px';
  canvas.style.top = (box[1] - mt) + 'px';
  page.appendChild(canvas);
  const contourSets = lines.map(l => {
    const data = [];
    for (let i = 1; i < l.length; i += 2) data.push({ x: l[i], y: l[i + 1] });
    return { label: String(l[0] / 100), data, borderColor: levelColors[l[0]], borderWidth: 3.8, showLine: true, pointRadius: 0, tension: 0.35, order: 1, clip: 0 };
  });
  const hexSets = [hexTop, hexLeft, hexBottom].map(h => ({
    label: 'hex', data: h.map(p => ({ x: p[0], y: p[1] })), borderColor: '#000', borderWidth: 4, showLine: true, pointRadius: 0, tension: 0, order: 2, clip: 0
  }));
  const xAxis = axis(144.6, 'X [mm]', 4), yAxis = axis(145, 'Y [mm]', 6);
  yAxis.ticks.labelOffset = 1.5;
  xAxis.afterFit = s => { s.height = mb; };
  yAxis.afterFit = s => { s.width = ml; };
  new Chart(canvas, {
    type: 'scatter',
    data: { datasets: hexSets.concat(contourSets) },
    options: {
      responsive: false, animation: false, devicePixelRatio: 1, events: [],
      layout: { autoPadding: false, padding: { left: 0, right: mr, top: mt, bottom: 0 } },
      plugins: { legend: { display: false }, tooltip: { enabled: false } },
      scales: { x: xAxis, y: yAxis }
    },
    plugins: [panelPlugin(cfg, field, labels)]
  });
}

panels.forEach(p => drawPanel(p[0], p[1], p[2], p[3]));

// colour bar, beside configuration 3
function drawColorbar() {
  const box = [2743.3, 1493.5, 18.3, 367.4], ml = 2, mr = 110, mt = 20, mb = 20;
  const canvas = document.createElement('canvas');
  canvas.width = ml + box[2] + mr;
  canvas.height = mt + box[3] + mb;
  canvas.style.left = (box[0] - ml) + 'px';
  canvas.style.top = (box[1] - mt) + 'px';
  page.appendChild(canvas);
  new Chart(canvas, {
    type: 'bar',
    data: {
      labels: ['Strehl'],
      datasets: [{
        data: [1], barPercentage: 1, categoryPercentage: 1,
        backgroundColor(c) {
          const a = c.chart.chartArea;
          if (!a) return '#000';
          const g = c.chart.ctx.createLinearGradient(0, a.bottom, 0, a.top);
          g.addColorStop(0, '#fff');
          g.addColorStop(0.8, '#000');
          viridis.forEach((rgb, i) => g.addColorStop(0.8 + i * 0.02, 'rgb(' + rgb.join(',') + ')'));
          return g;
        }
      }]
    },
    options: {
      responsive: false, animation: false, devicePixelRatio: 1, events: [],
      layout: { autoPadding: false, padding: { left: ml, right: 0, top: mt, bottom: mb } },
      plugins: { legend: { display: false }, tooltip: { enabled: false } },
      scales: {
        x: { display: false },
        y: {
          position: 'right', min: 0, max: 1,
          afterBuildTicks(s) { s.ticks = barTicks.map(v => ({ value: v })); },
          afterFit(s) { s.width = mr; },
          ticks: { color: '#000', font: { size: 26.5 }, padding: 6, labelOffset: 1.5, callback: v => v.toFixed(1) },
          grid: { drawOnChartArea: false, tickColor: '#000', tickWidth: 1.8, tickLength: 7.5 },
          border: { display: false }
        }
      }
    },
    plugins: [{
      id: 'barFrame',
      afterDraw(chart) {
        const { ctx, chartArea: a } = chart;
        ctx.save();
        ctx.strokeStyle = '#222';
        ctx.lineWidth = 1.8;
        ctx.strokeRect(a.left, a.top, a.width, a.height);
        ctx.restore();
      }
    }]
  });
  // bar label, bottom to top
  const t = document.createElement('canvas');
  t.width = 60; t.height = 340;
  t.style.left = '2812px'; t.style.top = '1507px';
  page.appendChild(t);
  const c = t.getContext('2d');
  c.translate(30, 170);
  c.rotate(-Math.PI / 2);
  c.font = '40px ' + FONT;
  c.textAlign = 'center';
  c.textBaseline = 'middle';
  c.fillStyle = '#000';
  c.fillText('Strehl Ratio [-]', 0, 0);
}
drawColorbar();
</script>
</body>
</html>
